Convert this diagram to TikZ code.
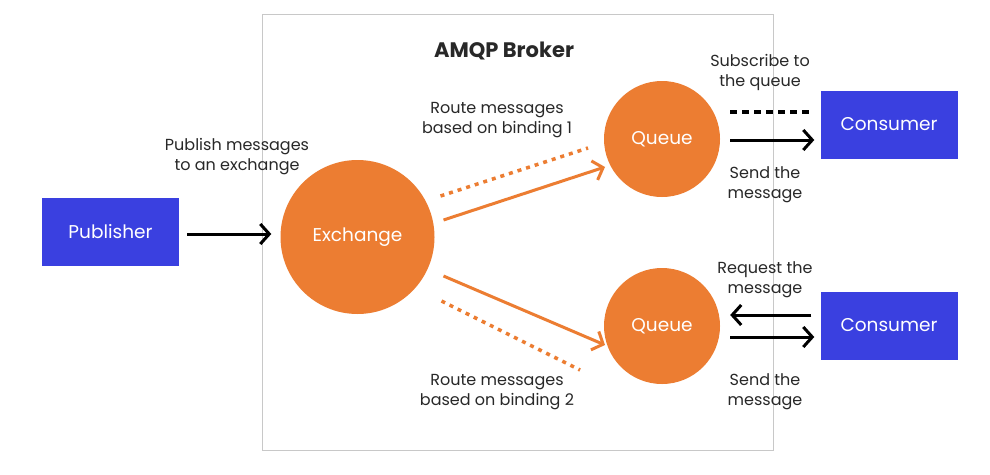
\documentclass[tikz,border=0pt]{standalone}
\usepackage{fontspec}
\setmainfont{Poppins}
\usetikzlibrary{arrows.meta,calc}
\definecolor{brokerorange}{RGB}{236,125,50}
\definecolor{clientblue}{RGB}{58,64,224}
\definecolor{labelgray}{RGB}{40,40,40}
\definecolor{framegray}{RGB}{200,200,200}
\tikzset{
  client/.style={fill=clientblue, text=white, minimum width=137pt, minimum height=68pt,
    inner sep=0pt, font=\fontsize{18.5}{20}\selectfont},
  bubble/.style={circle, fill=brokerorange, text=white, inner sep=0pt,
    font=\fontsize{18.5}{20}\selectfont},
  caption/.style={text=labelgray, align=center, inner sep=0pt,
    font=\fontsize{16}{20}\selectfont},
  chevron/.tip={Straight Barb[length=9pt, width=20pt, line width=3pt]},
  flow/.style={line width=3pt, -chevron},
  routeline/.style={draw=brokerorange, line width=3pt},
  routedots/.style={draw=brokerorange, line width=3.5pt, dash pattern=on 4pt off 5pt},
  subdash/.style={line width=3.5pt, dash pattern=on 7pt off 5pt},
}
\begin{document}
\begin{tikzpicture}[x=1pt, y=-1pt]
  \useasboundingbox[fill=white] (0,0) rectangle (990,474);

  % broker frame and title
  \draw[framegray, line width=0.8pt] (262,14) rectangle (773,450);
  \node[font=\fontseries{sb}\selectfont\fontsize{21}{22}\selectfont, text=labelgray] (title) at (504,51) {AMQP Broker};

  % clients
  \node[client] (pub) at (110.5,232) {Publisher};
  \node[client] (c1) at (889,124.5) {Consumer};
  \node[client] (c2) at (889,325.5) {Consumer};

  % exchange and queues
  \node[bubble, minimum size=154pt] (ex) at (357.5,237) {Exchange};
  \node[bubble, minimum size=116pt] (q1) at (662,139) {Queue};
  \node[bubble, minimum size=116pt] (q2) at (662,326) {Queue};

  % publisher to exchange
  \draw[flow] ($(pub.east)+(8,2)$) -- ($(ex.west)+(-9,-3)$);
  \node[caption] (lpub) at (237,157) {Publish messages\\to an exchange};

  % routing by bindings
  \draw[routeline, -chevron] ($(ex)+(86,-17)$) -- ($(q1)+(-57,28)$);
  \draw[routedots] ($(ex)+(83,-41)$) -- ($(q1)+(-74,9)$);
  \node[caption] (lb1) at (497,120) {Route messages\\based on binding 1};

  \draw[routeline, -chevron] ($(ex)+(86,39)$) -- ($(q2)+(-57,19)$);
  \draw[routedots] ($(ex)+(84,64)$) -- ($(q2)+(-82,44)$);
  \node[caption] (lb2) at (497,392) {Route messages\\based on binding 2};

  % push consumer
  \draw[subdash] ($(q1.east)+(10,-27)$) -- ($(c1.west)+(-9,-12.5)$);
  \draw[flow] ($(q1.east)+(10,1)$) -- ($(c1.west)+(-6,15.5)$);
  \node[caption] (lsub) at (760,72) {Subscribe to\\the queue};
  \node[caption] (lsend1) at (765,185) {Send the\\message};

  % pull consumer
  \draw[flow] ($(c2.west)+(-9,-10.5)$) -- ($(q2.east)+(10,-11)$);
  \draw[flow] ($(q2.east)+(10,11)$) -- ($(c2.west)+(-6,11.5)$);
  \node[caption] (lreq) at (765,280) {Request the\\message};
  \node[caption] (lsend2) at (765,392) {Send the\\message};
\end{tikzpicture}
\end{document}
